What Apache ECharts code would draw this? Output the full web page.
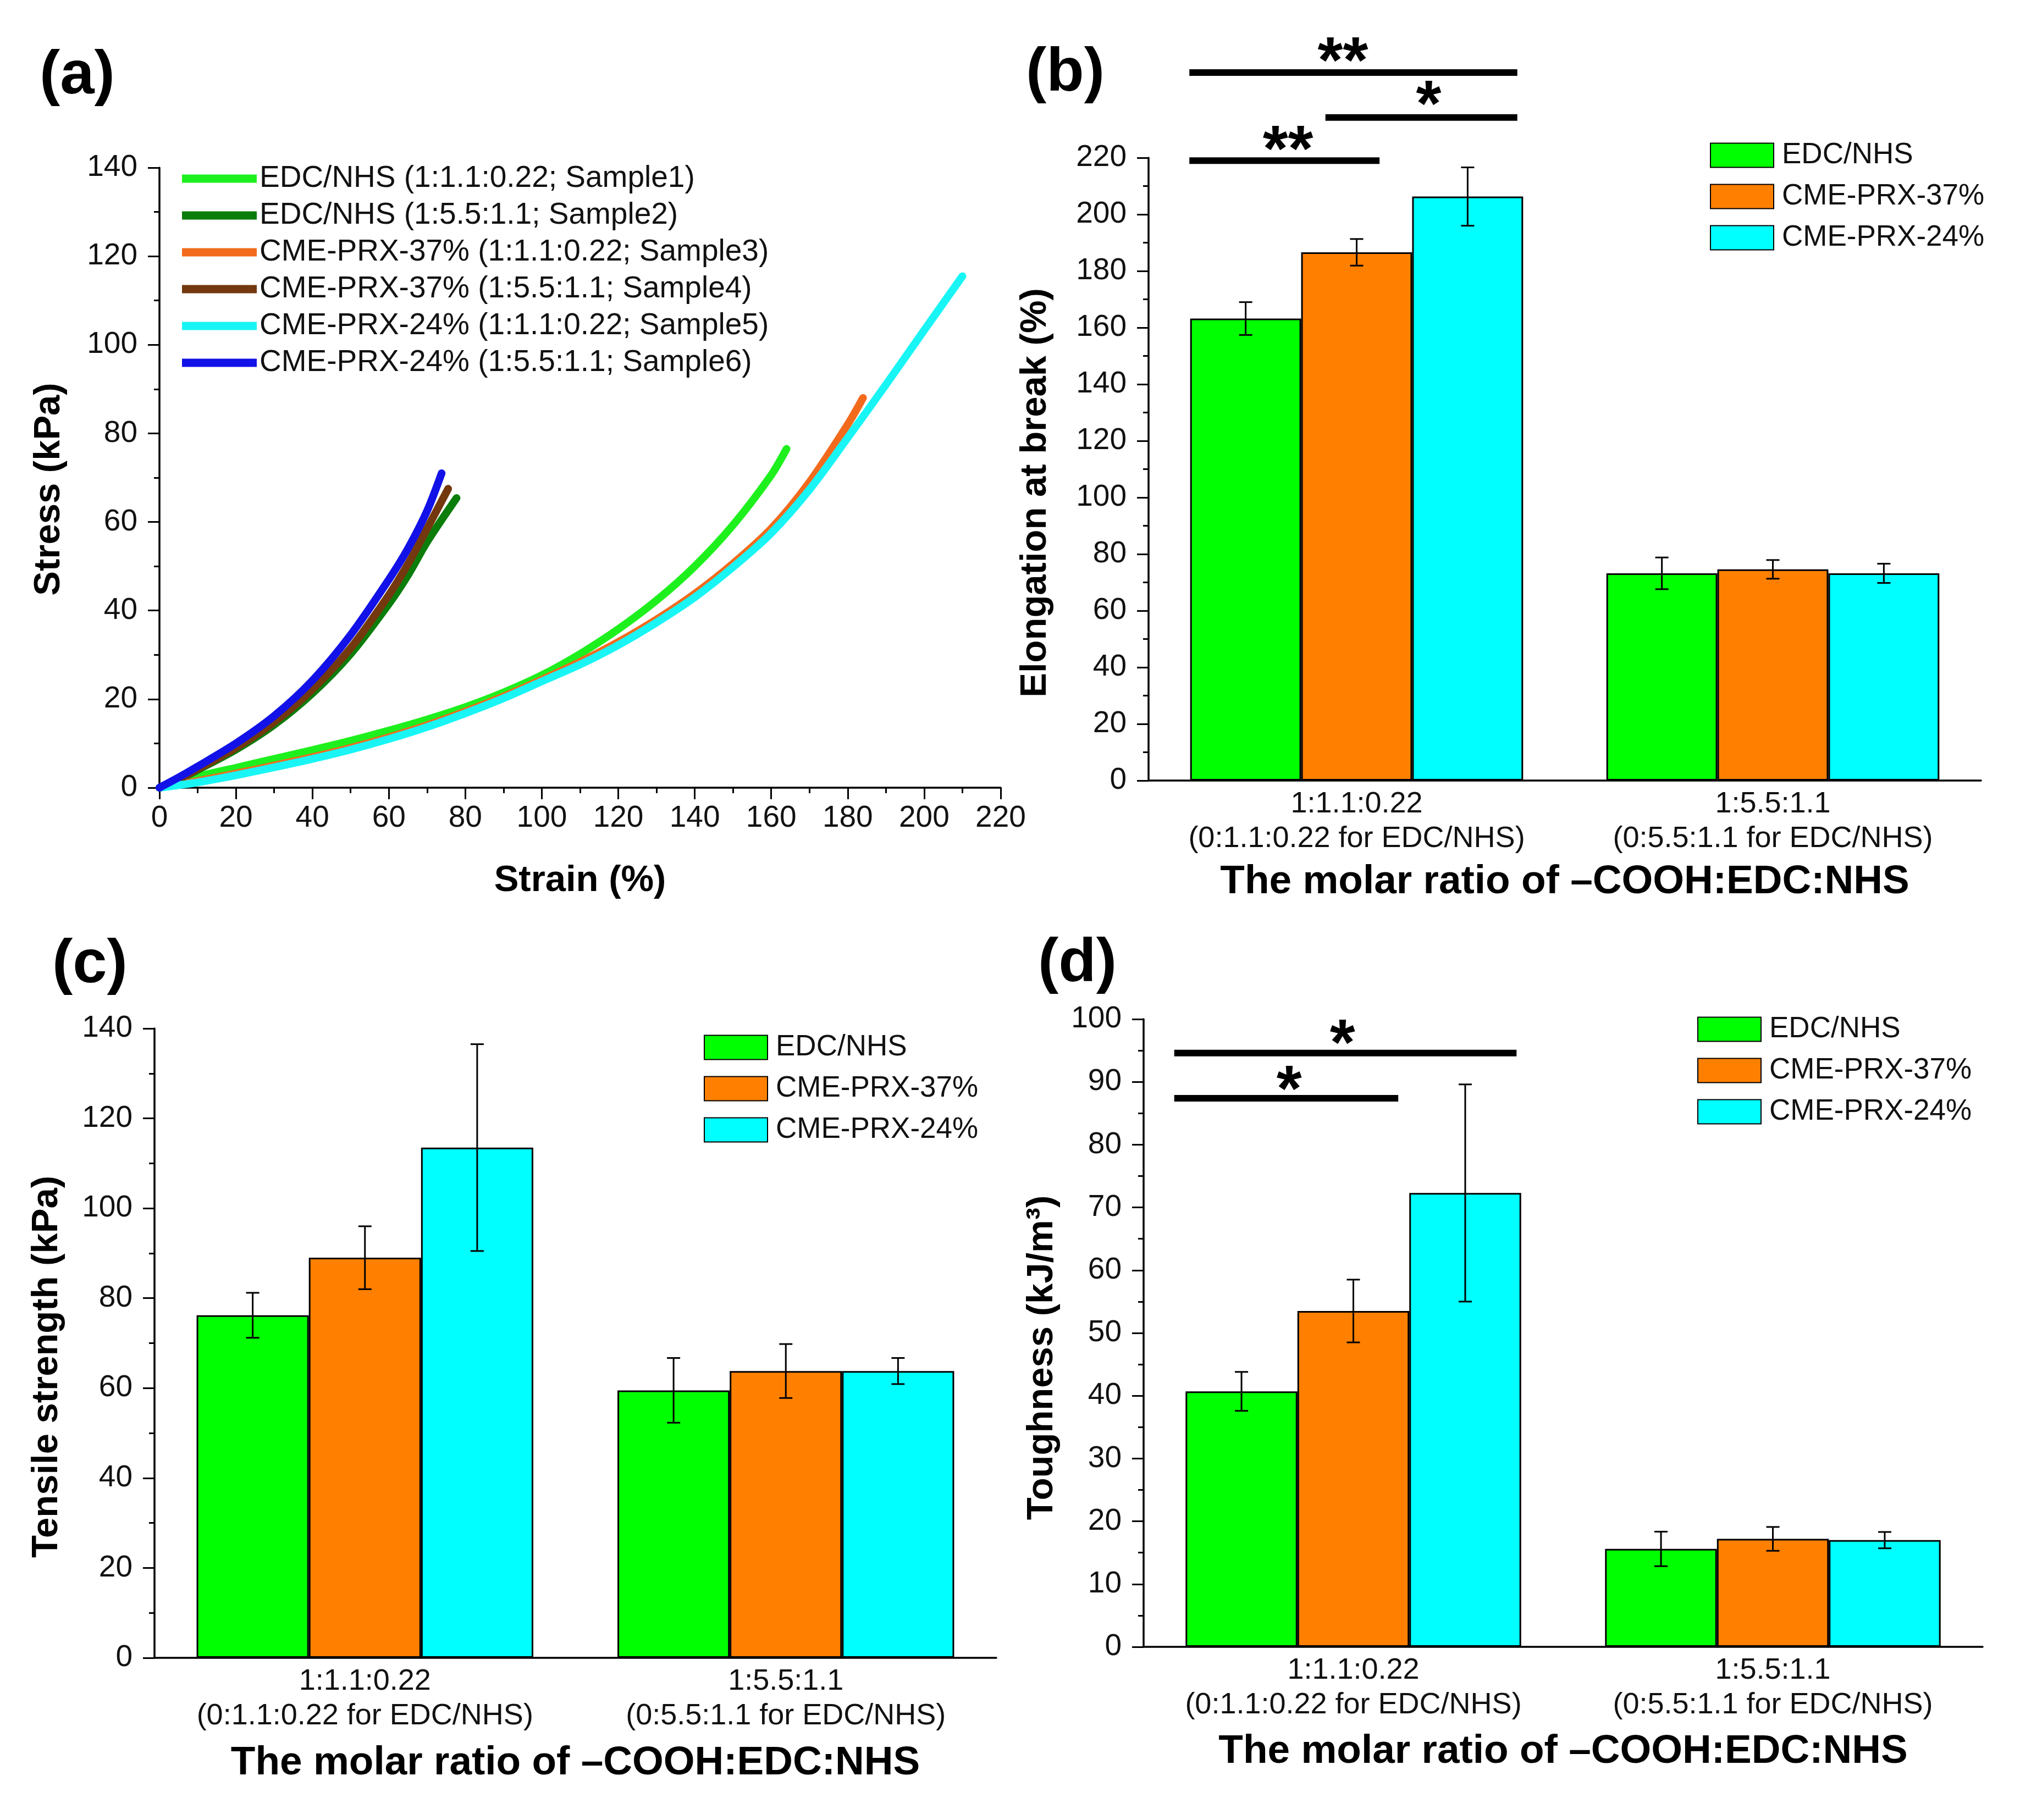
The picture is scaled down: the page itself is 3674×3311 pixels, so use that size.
<!DOCTYPE html>
<html>
<head>
<meta charset="utf-8">
<script src="https://cdn.jsdelivr.net/npm/echarts@6.0.0/dist/echarts.min.js"></script>
<style>
html,body{margin:0;padding:0;background:#ffffff;}
#chart{width:3674px;height:3311px;}
</style>
</head>
<body>
<div id="chart"></div>
<script>
// ---------------- DATA ----------------
// (a) stress-strain curves: [strain %, stress kPa]
const sample1 = [[0,0],[10,2.5],[20,4.5],[30,6.5],[40,8.5],[50,10.6],[60,12.9],[70,15.4],[80,18.2],[90,21.5],[100,25.4],[110,30.2],[120,35.8],[130,42.3],[140,50],[150,59.3],[160,70.6],[164,76.5]];
const sample2 = [[0,0],[5,1.8],[10,4],[20,8.6],[30,14.2],[40,21.3],[50,30.2],[60,41.5],[65,48],[70,55.5],[77.7,65.4]];
const sample3 = [[0,0],[10,1.5],[20,3.2],[30,5],[40,6.9],[50,9],[60,11.4],[70,14.1],[80,17.2],[90,20.6],[100,24.4],[110,28.4],[120,32.9],[130,38],[140,43.8],[150,50.6],[160,58.5],[170,69],[180,82],[184,88]];
const sample4 = [[0,0],[5,1.9],[10,4.2],[20,9],[30,14.8],[40,22.2],[50,31.5],[60,43.5],[65,50.5],[70,58.5],[75.5,67.5]];
const sample5 = [[0,0],[10,1.2],[20,2.8],[30,4.6],[40,6.5],[50,8.6],[60,11],[70,13.7],[80,16.8],[90,20.2],[100,24],[110,27.8],[120,32.2],[130,37.3],[140,43],[150,49.8],[160,57.5],[170,67.3],[180,79],[190,91],[200,103.3],[210,115.5]];
const sample6 = [[0,0],[5,2.3],[10,4.8],[20,10],[30,16.2],[40,24.2],[50,34.5],[60,47],[65,54],[70,62.5],[73.8,71]];
const curveNames = [
  'EDC/NHS (1:1.1:0.22; Sample1)',
  'EDC/NHS (1:5.5:1.1; Sample2)',
  'CME-PRX-37% (1:1.1:0.22; Sample3)',
  'CME-PRX-37% (1:5.5:1.1; Sample4)',
  'CME-PRX-24% (1:1.1:0.22; Sample5)',
  'CME-PRX-24% (1:5.5:1.1; Sample6)'
];
const strainTicks = [0,20,40,60,80,100,120,140,160,180,200,220];

// (b)(c)(d) bar charts
const categories = ['1:1.1:0.22\n(0:1.1:0.22 for EDC/NHS)', '1:5.5:1.1\n(0:5.5:1.1 for EDC/NHS)'];
const groupNames = ['EDC/NHS', 'CME-PRX-37%', 'CME-PRX-24%'];

const elongEDC = [163.2, 73.2];   const elongEDCErr = [5.8, 5.6];
const elong37  = [186.6, 74.6];   const elong37Err  = [4.7, 3.3];
const elong24  = [206.3, 73.2];   const elong24Err  = [10.3, 3.4];

const tensileEDC = [76.2, 59.5];  const tensileEDCErr = [5.0, 7.2];
const tensile37  = [89.0, 63.8];  const tensile37Err  = [7.0, 6.0];
const tensile24  = [113.5, 63.8]; const tensile24Err  = [23.0, 2.9];

const toughEDC = [40.7, 15.6];    const toughEDCErr = [3.1, 2.75];
const tough37  = [53.5, 17.2];    const tough37Err  = [5.0, 1.9];
const tough24  = [72.3, 17.0];    const tough24Err  = [17.3, 1.3];

// significance brackets: [category, y value, start (fraction of band from centre), end]
const sigBarsB = [[0, 250.1, -0.402, 0.386], [0, 234.2, -0.075, 0.386], [0, 219.0, -0.402, 0.055]];
const sigStarsB = [[0, 258.1, -0.033], [0, 242.9, 0.173], [0, 227.0, -0.165]];
const sigLabelsB = ['**', '*', '**'];
const sigBarsD = [[0, 94.6, -0.427, 0.389], [0, 87.4, -0.427, 0.107]];
const sigStarsD = [[0, 98.0, -0.026], [0, 90.6, -0.153]];
const sigLabelsD = ['*', '*'];

// ---------------- STYLE ----------------
const FONT = "'Liberation Sans', Arial, Helvetica, sans-serif";
const curveColors = ['#1EF01E', '#0B7D0B', '#F26B1D', '#73380E', '#19F5F5', '#1212E8'];
const barColors = ['#00FF00', '#FF8000', '#00FFFF'];
const TXT = '#111111';

function valueAxisBase(extra) {
  return Object.assign({
    type: 'value',
    axisLine: { show: true, onZero: false, lineStyle: { color: '#000', width: 3.5 } },
    axisTick: { show: true, inside: false, length: 21, lineStyle: { color: '#000', width: 3 } },
    minorTick: { show: true, splitNumber: 2, length: 10, lineStyle: { color: '#000', width: 3 } },
    splitLine: { show: false },
    minorSplitLine: { show: false },
    axisLabel: { fontSize: 55, color: TXT, fontFamily: FONT, margin: 40 },
    nameLocation: 'middle',
    nameMoveOverlap: false,
    nameTextStyle: { fontSize: 67, fontWeight: 'bold', color: '#000', fontFamily: FONT }
  }, extra);
}
function catAxisBase(extra) {
  return Object.assign({
    type: 'category',
    data: categories,
    axisLine: { show: true, lineStyle: { color: '#000', width: 3.5 } },
    axisTick: { show: false },
    axisLabel: { fontSize: 54, lineHeight: 63, color: TXT, fontFamily: FONT, margin: 12, interval: 0 },
    name: 'The molar ratio of \u2013COOH:EDC:NHS',
    nameLocation: 'middle',
    nameMoveOverlap: false,
    nameTextStyle: { fontSize: 73, fontWeight: 'bold', color: '#000', fontFamily: FONT }
  }, extra);
}

function errRender(offsetIdx) {
  return function (params, api) {
    const cat = api.value(0), v = api.value(1), e = api.value(2);
    const c = api.coord([cat, v]);
    const band = api.size([1, 0])[0];
    const bw = band * 0.8 / 3;
    const x = c[0] + offsetIdx * bw;
    const yTop = api.coord([cat, v + e])[1];
    const yBot = api.coord([cat, v - e])[1];
    const hw = 12;
    const st = { stroke: '#000', lineWidth: 3 };
    return { type: 'group', children: [
      { type: 'line', shape: { x1: x, y1: yTop, x2: x, y2: yBot }, style: st },
      { type: 'line', shape: { x1: x - hw, y1: yTop, x2: x + hw, y2: yTop }, style: st },
      { type: 'line', shape: { x1: x - hw, y1: yBot, x2: x + hw, y2: yBot }, style: st }
    ] };
  };
}

function sigBarRender(params, api) {
  const cat = api.value(0), y = api.value(1), f0 = api.value(2), f1 = api.value(3);
  const c = api.coord([cat, y]);
  const band = api.size([1, 0])[0];
  return { type: 'rect', shape: { x: c[0] + f0 * band, y: c[1] - 6, width: (f1 - f0) * band, height: 12 }, style: { fill: '#000' } };
}
function sigStarRender(labels) {
  const FS = 118;
  return function (params, api) {
    const cat = api.value(0), y = api.value(1), f = api.value(2);
    const c = api.coord([cat, y]);
    const band = api.size([1, 0])[0];
    return { type: 'text', x: c[0] + f * band, y: c[1] + 0.23 * FS,
      style: { text: labels[params.dataIndex], fontSize: FS, fontWeight: 'bold', fontFamily: FONT, fill: '#000', align: 'center', verticalAlign: 'middle' } };
  };
}

const series = [];
// (a) curves
[sample1, sample2, sample3, sample4, sample5, sample6].forEach(function (d, i) {
  series.push({
    type: 'line', name: curveNames[i], xAxisIndex: 0, yAxisIndex: 0, data: d,
    showSymbol: false, symbol: 'none', smooth: 0.3,
    color: curveColors[i],
    itemStyle: { color: curveColors[i] },
    lineStyle: { width: 14, color: curveColors[i], cap: 'round', join: 'round' },
    emphasis: { disabled: true }, silent: true
  });
});

// bar panels
const panels = [
  { axis: 1, vals: [elongEDC, elong37, elong24], errs: [elongEDCErr, elong37Err, elong24Err] },
  { axis: 2, vals: [tensileEDC, tensile37, tensile24], errs: [tensileEDCErr, tensile37Err, tensile24Err] },
  { axis: 3, vals: [toughEDC, tough37, tough24], errs: [toughEDCErr, tough37Err, tough24Err] }
];
panels.forEach(function (p) {
  p.vals.forEach(function (vals, g) {
    series.push({
      type: 'bar', name: groupNames[g], xAxisIndex: p.axis, yAxisIndex: p.axis, data: vals,
      barGap: '0%', barCategoryGap: '20%',
      itemStyle: { color: barColors[g], borderColor: '#000', borderWidth: 3 },
      emphasis: { disabled: true }, silent: true
    });
  });
  p.vals.forEach(function (vals, g) {
    series.push({
      type: 'custom', xAxisIndex: p.axis, yAxisIndex: p.axis,
      data: vals.map(function (v, i) { return [i, v, p.errs[g][i]]; }),
      encode: { x: 0, y: 1 }, renderItem: errRender(g - 1), z: 5, silent: true, clip: false
    });
  });
});

// significance
series.push({ type: 'custom', xAxisIndex: 1, yAxisIndex: 1, data: sigBarsB, encode: { x: 0, y: 1 }, renderItem: sigBarRender, clip: false, z: 6, silent: true });
series.push({ type: 'custom', xAxisIndex: 1, yAxisIndex: 1, data: sigStarsB, encode: { x: 0, y: 1 }, renderItem: sigStarRender(sigLabelsB), clip: false, z: 6, silent: true });
series.push({ type: 'custom', xAxisIndex: 3, yAxisIndex: 3, data: sigBarsD, encode: { x: 0, y: 1 }, renderItem: sigBarRender, clip: false, z: 6, silent: true });
series.push({ type: 'custom', xAxisIndex: 3, yAxisIndex: 3, data: sigStarsD, encode: { x: 0, y: 1 }, renderItem: sigStarRender(sigLabelsD), clip: false, z: 6, silent: true });

const barLegend = function (left, top) {
  return {
    data: groupNames, orient: 'vertical', left: left, top: top, padding: 0,
    icon: 'rect', itemWidth: 115, itemHeight: 44, itemGap: 22, selectedMode: false,
    textStyle: { fontSize: 53, lineHeight: 44, color: TXT, fontFamily: FONT, padding: [0, 0, 0, 10] }
  };
};

const panelLabel = function (txt, x, y) {
  return { type: 'text', left: x, top: y - 62, style: { text: txt, fontSize: 112, fontWeight: 'bold', fontFamily: FONT, fill: '#000' } };
};

const option = {
  animation: false,
  backgroundColor: '#ffffff',
  textStyle: { fontFamily: FONT },
  grid: [
    { left: 290, top: 305, width: 1530, height: 1128, outerBoundsMode: 'none', containLabel: false },
    { left: 2089, top: 287, width: 1514, height: 1133, outerBoundsMode: 'none', containLabel: false },
    { left: 281, top: 1871, width: 1531, height: 1145, outerBoundsMode: 'none', containLabel: false },
    { left: 2080, top: 1854, width: 1526, height: 1142, outerBoundsMode: 'none', containLabel: false }
  ],
  xAxis: [
    valueAxisBase({ gridIndex: 0, min: strainTicks[0], max: strainTicks[strainTicks.length - 1], interval: 20,
      name: 'Strain (%)', nameGap: 136,
      axisLabel: { fontSize: 55, color: TXT, fontFamily: FONT, margin: 28 } }),
    catAxisBase({ gridIndex: 1, nameGap: 148 }),
    catAxisBase({ gridIndex: 2, nameGap: 155 }),
    catAxisBase({ gridIndex: 3, nameGap: 154 })
  ],
  yAxis: [
    valueAxisBase({ gridIndex: 0, min: 0, max: 140, interval: 20, name: 'Stress (kPa)', nameGap: 167,
      nameTextStyle: { fontSize: 67, fontWeight: 'bold', color: '#000', fontFamily: FONT, padding: [0, 42, 0, 0] } }),
    valueAxisBase({ gridIndex: 1, min: 0, max: 220, interval: 20, name: 'Elongation at break (%)', nameGap: 172,
      nameTextStyle: { fontSize: 67, fontWeight: 'bold', color: '#000', fontFamily: FONT, padding: [0, 86, 0, 0] } }),
    valueAxisBase({ gridIndex: 2, min: 0, max: 140, interval: 20, name: 'Tensile strength (kPa)', nameGap: 162,
      nameTextStyle: { fontSize: 67, fontWeight: 'bold', color: '#000', fontFamily: FONT, padding: [0, 86, 0, 0] } }),
    valueAxisBase({ gridIndex: 3, min: 0, max: 100, interval: 10, name: 'Toughness (kJ/m\u00B3)', nameGap: 151,
      nameTextStyle: { fontSize: 67, fontWeight: 'bold', color: '#000', fontFamily: FONT, padding: [0, 90, 0, 0] } })
  ],
  legend: [
    { data: curveNames, orient: 'vertical', left: 331, top: 297, padding: 0,
      icon: 'rect', itemWidth: 136, itemHeight: 15, itemGap: 11, selectedMode: false,
      textStyle: { fontSize: 55, lineHeight: 56, color: TXT, fontFamily: FONT } },
    barLegend(3110, 256),
    barLegend(1280, 1879),
    barLegend(3087, 1846)
  ],
  graphic: [
    panelLabel('(a)', 72, 145),
    panelLabel('(b)', 1866, 140),
    panelLabel('(c)', 95, 1762),
    panelLabel('(d)', 1888, 1760)
  ],
  series: series
};

const chart = echarts.init(document.getElementById('chart'), null, { renderer: 'canvas' });
chart.setOption(option);
</script>
</body>
</html>
